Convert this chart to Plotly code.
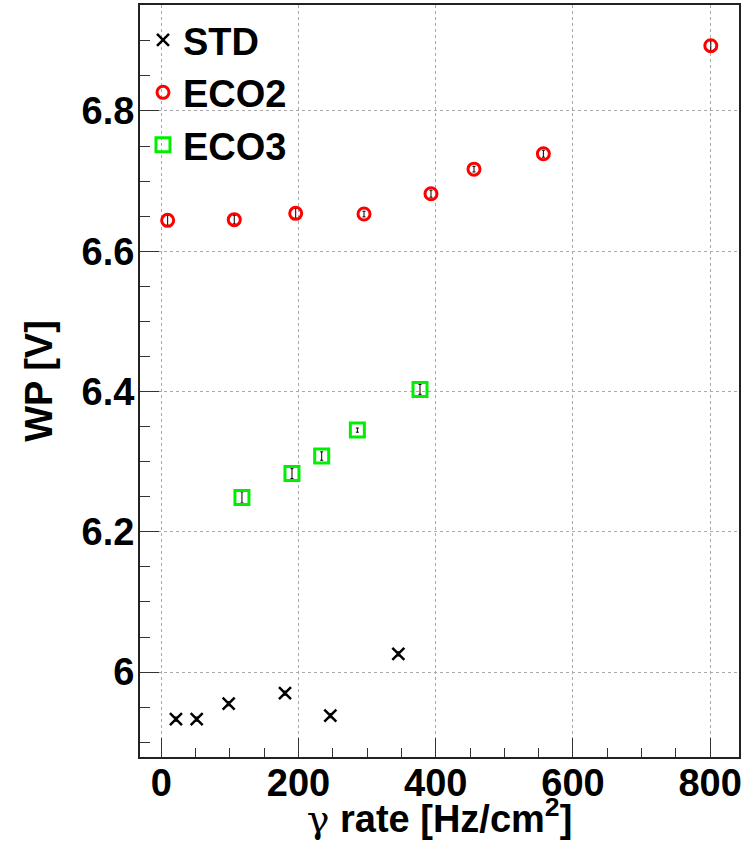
import plotly.graph_objects as go

# STD
std_x = [21.4, 51.6, 98.2, 180.3, 246.4, 345.5]
std_y = [5.933, 5.933, 5.955, 5.970, 5.938, 6.026]
std_err = [0.003, 0.003, 0.003, 0.003, 0.003, 0.003]

# ECO2
eco2_x = [9.3, 106.4, 195.9, 295.5, 393.1, 455.8, 556.9, 800.9]
eco2_y = [6.644, 6.645, 6.654, 6.653, 6.682, 6.717, 6.739, 6.893]
eco2_err = [0.007, 0.006, 0.007, 0.004, 0.005, 0.004, 0.005, 0.007]

# ECO3
eco3_x = [117.6, 190.5, 233.8, 285.8, 377.1]
eco3_y = [6.249, 6.283, 6.308, 6.345, 6.403]
eco3_err = [0.008, 0.007, 0.006, 0.003, 0.007]

FONT = "Liberation Sans, Arial, Helvetica, sans-serif"

fig = go.Figure()

def add(name, x, y, err, symbol, color, size, lw):
    fig.add_trace(go.Scatter(
        x=x, y=y, mode="markers", name=name,
        marker=dict(symbol=symbol, size=size, color=color,
                    line=dict(color=color, width=lw)),
        error_y=dict(type="data", array=err, visible=True,
                     color="black", thickness=1, width=1.5),
    ))

add("STD", std_x, std_y, std_err, "x-thin", "black", 12, 2.5)
add("ECO2", eco2_x, eco2_y, eco2_err, "circle-open", "#ff0000", 12, 3)
add("ECO3", eco3_x, eco3_y, eco3_err, "square-open", "#00ee00", 14, 3)

axis_common = dict(
    showline=True, linecolor="#222", linewidth=2, mirror=True,
    ticks="inside", ticklen=19, tickwidth=1, tickcolor="#333",
    showgrid=True, gridcolor="#aaa", griddash="dot", gridwidth=1,
    zeroline=False, automargin=False,
    tickfont=dict(family=FONT, size=38, color="black", weight="bold"),
)

fig.update_layout(
    width=754, height=841,
    margin=dict(l=140, r=15, t=5, b=84),
    paper_bgcolor="white", plot_bgcolor="white",
    showlegend=True,
    legend=dict(x=0.005, y=0.995, xanchor="left", yanchor="top",
                bgcolor="rgba(0,0,0,0)", borderwidth=0,
                font=dict(family=FONT, size=38, color="black", weight="bold"),
                itemsizing="trace"),
    xaxis=dict(
        range=[-31, 842], tick0=0, dtick=200,
        minor=dict(dtick=50, ticks="inside", ticklen=9, tickcolor="#333", showgrid=False),
        title=dict(text='<span style="font-weight:normal;font-family:DejaVu Serif">γ</span> rate [Hz/cm<sup>2</sup>]',
                   font=dict(family=FONT, size=38, color="black", weight="bold"),
                   standoff=9),
        ticklabelstandoff=-9,
        **axis_common,
    ),
    yaxis=dict(
        range=[5.879, 6.951], tick0=6, dtick=0.2,
        minor=dict(dtick=0.05, ticks="inside", ticklen=10, tickcolor="#333", showgrid=False),
        title=dict(text="WP [V]",
                   font=dict(family=FONT, size=38, color="black", weight="bold"),
                   standoff=17),
        ticklabelstandoff=-4,
        **axis_common,
    ),
)

fig.write_html("out.html")
